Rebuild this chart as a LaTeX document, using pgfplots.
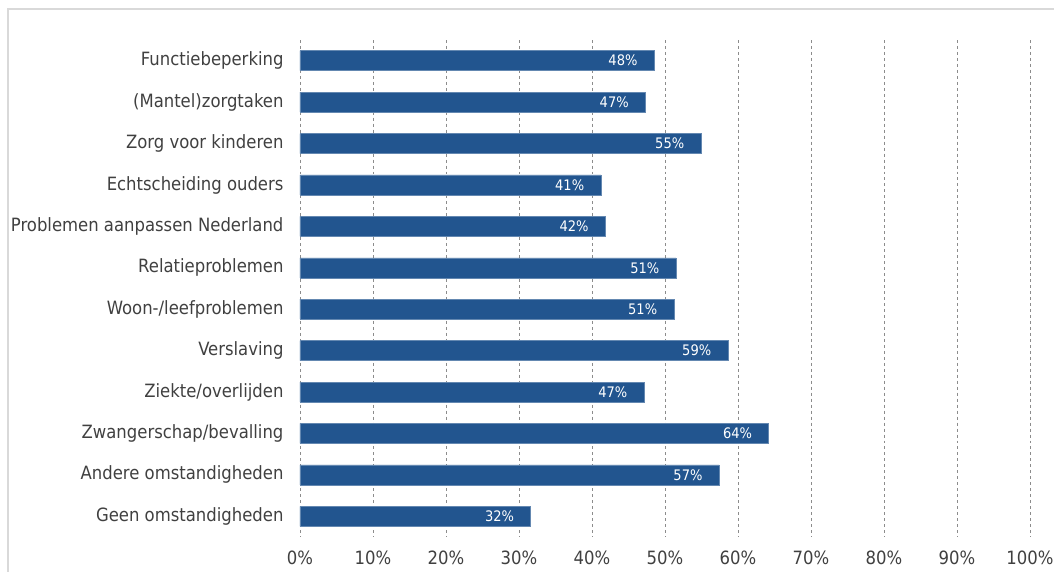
\documentclass[border=0pt]{standalone}
\usepackage{pgfplots}
\pgfplotsset{compat=1.18}
\usepackage{fontspec}
\setmainfont{DejaVu Sans Condensed}
\definecolor{barblue}{HTML}{22558F}
\definecolor{txtgray}{HTML}{404040}
\definecolor{gridgray}{HTML}{8C8C8C}
\definecolor{framegray}{HTML}{D9D9D9}
\begin{document}
\begin{tikzpicture}
\begin{axis}[
  at={(0,0)}, anchor=south west,
  scale only axis,
  width=730bp, height=497bp,
  xbar, bar width=20bp,
  xmin=0, xmax=100,
  ymin=-0.5, ymax=11.5,
  y dir=reverse,
  xtick={0,10,...,100},
  xticklabel={\pgfmathprintnumber{\tick}\%},
  ytick={0,...,11},
  yticklabels={Functiebeperking,(Mantel)zorgtaken,Zorg voor kinderen,Echtscheiding ouders,Problemen aanpassen Nederland,Relatieproblemen,Woon-/leefproblemen,Verslaving,Ziekte/overlijden,Zwangerschap/bevalling,Andere omstandigheden,Geen omstandigheden},
  /pgf/number format/assume math mode=true,
  axis line style={draw=none},
  major tick length=0pt,
  xmajorgrids,
  grid style={gridgray, dashed, line width=0.8bp},
  tick label style={font=\fontsize{18.3bp}{20bp}\selectfont, text=txtgray},
  xticklabel style={yshift=-10bp},
  yticklabel style={xshift=-13bp},
  nodes near coords={\pgfplotspointmeta\%},
  point meta=explicit symbolic,
  every node near coord/.style={anchor=east, xshift=-13bp, text=white, font=\fontsize{14.5bp}{16bp}\selectfont},
]
\addplot[fill=barblue, draw=barblue!70!white, line width=0.5bp] table[meta=lab] {
x y lab
48.5 0 48
47.3 1 47
54.9 2 55
41.2 3 41
41.8 4 42
51.5 5 51
51.2 6 51
58.6 7 59
47.1 8 47
64.2 9 64
57.4 10 57
31.6 11 32
};
\end{axis}
\draw[framegray, line width=1.2bp] (-292bp,-40bp) -- (-292bp,528bp) -- (760bp,528bp);
\pgfresetboundingbox
\path[use as bounding box] (-300bp,-35bp) rectangle (754bp,537bp);
\end{tikzpicture}
\end{document}
